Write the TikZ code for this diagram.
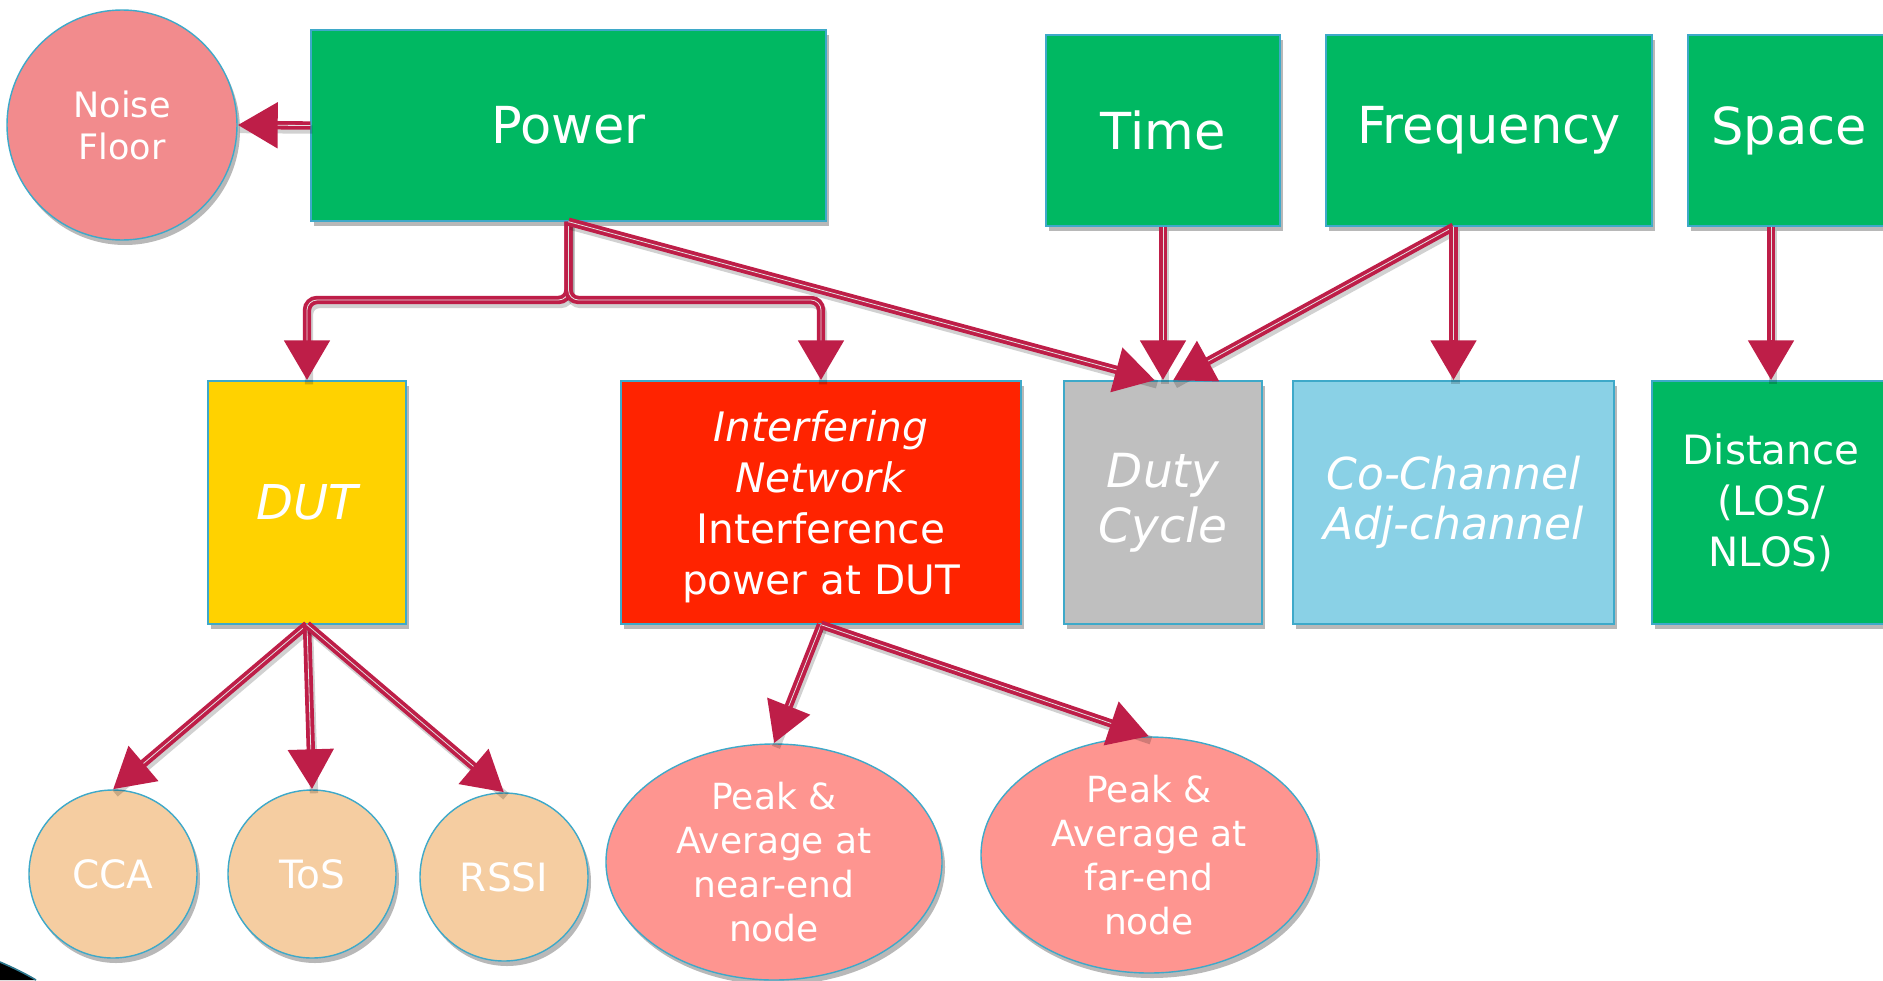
\documentclass[tikz,border=0pt]{standalone}
\usepackage{fontspec}
\setmainfont{DejaVu Sans}
\usetikzlibrary{arrows.meta,shapes.geometric,shadows}

\definecolor{grn}{HTML}{00B862}
\definecolor{nfpink}{HTML}{F28B8D}
\definecolor{dutyel}{HTML}{FFD200}
\definecolor{intred}{HTML}{FF2300}
\definecolor{dcgray}{HTML}{BFBFBF}
\definecolor{cobl}{HTML}{8AD1E6}
\definecolor{peach}{HTML}{F5CDA1}
\definecolor{peakpink}{HTML}{FE9590}
\definecolor{edgeblue}{HTML}{3EA9C9}
\definecolor{crim}{HTML}{BE1E48}

\tikzset{
  shade/.style={drop shadow={shadow xshift=1.5pt, shadow yshift=-2.5pt, opacity=0.28, fill=black}},
  box/.style={rectangle, draw=edgeblue, line width=0.7pt, text=white, align=center,
    inner sep=0pt, shade},
  disc/.style={circle, draw=edgeblue, line width=0.7pt, text=white, align=center,
    inner sep=0pt, shade},
  oval/.style={ellipse, draw=edgeblue, line width=0.7pt, inner sep=0pt, shade},
  link/.style={draw=crim, line width=4.2pt,
    -{Triangle[width=22pt,length=20pt]},
    preaction={draw=black, opacity=0.18, -, line width=4.2pt,
      transform canvas={xshift=1pt, yshift=-2pt}},
    postaction={draw=white!78!gray, line width=0.4pt, -, shorten >=20pt}},
}

\begin{document}
\begin{tikzpicture}[x=0.5pt,y=-0.5pt]
\useasboundingbox (0,0) rectangle (1883,980);
\fill[white] (0,0) rectangle (1883,980);
\begin{scope}
\clip (0,0) rectangle (1883,980);

% top row
\node[disc, fill=nfpink, minimum size=115pt,
  font=\fontsize{17.5}{21}\selectfont] (nf) at (122,125) {Noise\\Floor};
\node[box, fill=grn, minimum width=257.5pt, minimum height=95.5pt,
  font=\fontsize{25.5}{30}\selectfont] (power) at (568.5,125.5) {Power};
\node[box, fill=grn, minimum width=117pt, minimum height=95.5pt,
  font=\fontsize{25.5}{30}\selectfont] (time) at (1163,130.5) {Time};
\node[box, fill=grn, minimum width=163pt, minimum height=95.5pt,
  font=\fontsize{25.5}{30}\selectfont] (freq) at (1489,130.5) {Frequency};
\node[box, fill=grn, minimum width=101pt, minimum height=95.5pt,
  font=\fontsize{25.5}{30}\selectfont] (space) at (1789,130.5) {Space};

% middle row
\node[box, fill=dutyel, minimum width=99pt, minimum height=121.5pt,
  font=\fontsize{24}{28}\selectfont\itshape] (dut) at (307,502.5) {DUT};
\node[box, fill=intred, minimum width=200pt, minimum height=121.5pt,
  label={[text=white, align=center, font=\fontsize{20.3}{25.5}\selectfont, yshift=-2pt]center:%
    \textit{Interfering}\\\textit{Network}\\Interference\\power at DUT}]
  (intf) at (821,502.5) {};
\node[box, fill=dcgray, minimum width=99pt, minimum height=121.5pt,
  font=\fontsize{23.5}{27.5}\selectfont\itshape] (duty) at (1163,502.5) {Duty\\Cycle};
\node[box, fill=cobl, minimum width=160.5pt, minimum height=121.5pt,
  font=\fontsize{22}{25}\selectfont\itshape] (co) at (1453.5,502.5) {Co-Channel\\Adj-channel};
\node[box, fill=grn, minimum width=119pt, minimum height=121.5pt,
  font=\fontsize{20.2}{25.5}\selectfont] (dist) at (1771,502.5) {Distance\\(LOS/\\NLOS)};

% bottom row
\node[disc, fill=peach, minimum size=84pt, font=\fontsize{19.5}{24}\selectfont] (cca) at (113,874) {CCA};
\node[disc, fill=peach, minimum size=84pt, font=\fontsize{19.5}{24}\selectfont] (tos) at (312,874) {ToS};
\node[disc, fill=peach, minimum size=84pt, font=\fontsize{19.5}{24}\selectfont] (rssi) at (504,877) {RSSI};
\node[oval, fill=peakpink, minimum width=168pt, minimum height=118pt,
  label={[text=white, align=center, font=\fontsize{18}{22}\selectfont]center:Peak \&\\Average at\\near-end\\node}]
  (near) at (774,862) {};
\node[oval, fill=peakpink, minimum width=168pt, minimum height=118pt,
  label={[text=white, align=center, font=\fontsize{18}{22}\selectfont]center:Peak \&\\Average at\\far-end\\node}]
  (far) at (1149,855) {};

% connectors
\coordinate (j) at (568.5,300);
\coordinate (fq) at (co.north |- freq.south);
\coordinate (sp) at (dist.north |- space.south);

\draw[link] (power.west) -- (nf.east);
\draw[link, rounded corners=5pt] (power.south) -- (j) -| (dut.north);
\draw[link, rounded corners=5pt] (power.south) -- (j) -| (intf.north);
\draw[link] (power.south) -- ([xshift=-4pt]duty.north);
\draw[link] (time.south) -- (duty.north);
\draw[link] (fq) -- ([xshift=5pt]duty.north);
\draw[link] (fq) -- (co.north);
\draw[link] (sp) -- (dist.north);
\draw[link] (dut.south) -- (cca.north);
\draw[link] (dut.south) -- (tos.north);
\draw[link] (dut.south) -- (rssi.north);
\draw[link] (intf.south) -- (near.north);
\draw[link] (intf.south) -- (far.north);

% corner ornament
\fill[black] (0,962) .. controls (14,968) and (26,974) .. (36,980) -- (0,980) -- cycle;
\draw[edgeblue!70!black, line width=0.8pt] (0,962) .. controls (14,968) and (26,974) .. (36,980);
\end{scope}
\end{tikzpicture}
\end{document}
